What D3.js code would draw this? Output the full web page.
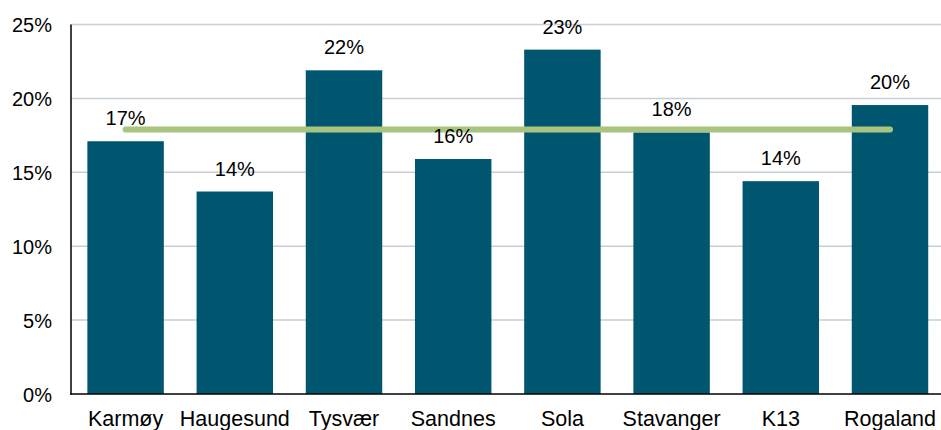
<!DOCTYPE html>
<html><head><meta charset="utf-8">
<script src="https://cdn.jsdelivr.net/npm/d3@7"></script>
<style>body{margin:0;background:#fff}svg{display:block}text{font-family:"Liberation Sans",Arial,sans-serif;fill:#000}</style>
</head><body><svg id="c" width="941" height="430"></svg>
<script>
const categories = ["Karmøy","Haugesund","Tysvær","Sandnes","Sola","Stavanger","K13","Rogaland"];
const values = [17.1, 13.7, 21.9, 15.9, 23.3, 17.7, 14.4, 19.55];
const average = 17.9;
const yTicks = [0,5,10,15,20,25];

const svg = d3.select("#c");
const mLeft = 71, mTop = 24.5, mBottom = 394, mRight = 944.6;
const x = d3.scaleBand().domain(categories).range([mLeft, mRight]).paddingInner(0.3).paddingOuter(0.15);
const y = d3.scaleLinear().domain([0,25]).range([mBottom, mTop]);

// grid
svg.append("g").selectAll("line").data(yTicks.filter(d=>d>0)).join("line")
  .attr("x1", mLeft).attr("x2", 941).attr("y1", d=>y(d)).attr("y2", d=>y(d))
  .attr("stroke", "#c5cfd8").attr("stroke-width", 1.5);

// y tick labels
const yAxis = d3.axisLeft(y).tickValues(yTicks).tickFormat(d=>d+"%").tickSize(0).tickPadding(19);
const ya = svg.append("g").attr("transform", `translate(${mLeft},0)`).call(yAxis);
ya.select(".domain").remove();
ya.selectAll("text").attr("font-size", 20).attr("dy", "0.35em").style("font-family","Liberation Sans, Arial, sans-serif");

// bars
svg.append("g").selectAll("rect").data(values).join("rect")
  .attr("x", (d,i)=>x(categories[i])).attr("width", x.bandwidth())
  .attr("y", d=>y(d)).attr("height", d=>mBottom - y(d))
  .attr("fill", "#01566f");

// average line
const xc = c => x(c) + x.bandwidth()/2;
svg.append("line").attr("x1", xc(categories[0])).attr("x2", xc(categories[categories.length-1]))
  .attr("y1", y(average)).attr("y2", y(average))
  .attr("stroke", "#a9c47f").attr("stroke-width", 6).attr("stroke-linecap", "round");

// value labels
svg.append("g").selectAll("text").data(values).join("text")
  .attr("x", (d,i)=>xc(categories[i])).attr("y", d=>y(d)-16)
  .attr("text-anchor","middle").attr("font-size", 20)
  .text(d=>Math.round(d)+"%");

// axes lines
svg.append("line").attr("x1", mLeft).attr("x2", mLeft).attr("y1", mTop).attr("y2", mBottom+0.75)
  .attr("stroke", "#000").attr("stroke-width", 1.5);
const xa = svg.append("g").attr("transform", `translate(0,${mBottom})`)
  .call(d3.axisBottom(x).tickSize(0).tickPadding(17));
xa.select(".domain").remove();
xa.selectAll("text").attr("font-size", 21.5).style("font-family","Liberation Sans, Arial, sans-serif");
svg.append("line").attr("x1", mLeft-0.75).attr("x2", 941).attr("y1", mBottom).attr("y2", mBottom)
  .attr("stroke", "#000").attr("stroke-width", 1.5);
</script></body></html>
